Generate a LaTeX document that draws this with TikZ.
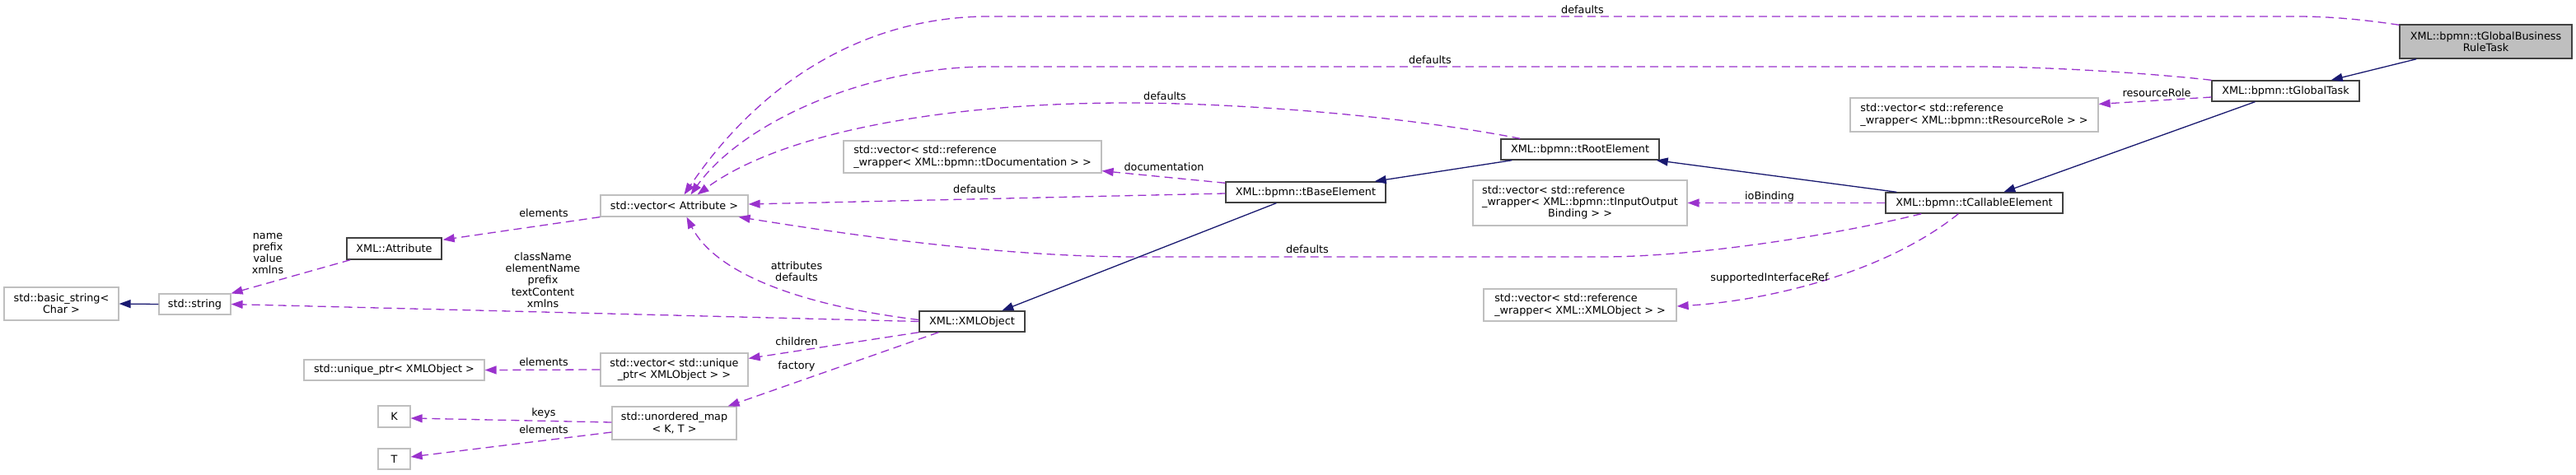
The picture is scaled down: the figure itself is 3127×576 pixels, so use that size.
\documentclass[tikz,border=0pt]{standalone}
\usepackage{fontspec}
\setmainfont{DejaVu Sans}
\usetikzlibrary{arrows.meta,calc}
\definecolor{cdep}{HTML}{9A32CD}
\definecolor{cinh}{HTML}{191970}
\definecolor{cext}{HTML}{BFBFBF}
\definecolor{cdoc}{HTML}{404040}
\definecolor{cmain}{HTML}{BFBFBF}
\tikzset{
  every node/.style={font=\fontsize{12.8}{14.3}\selectfont, inner sep=0pt},
  extbox/.style={draw=cext, line width=1.2pt, fill=white, align=center},
  docbox/.style={draw=cdoc, line width=1.4pt, fill=white, align=center},
  mainbox/.style={draw=cdoc, line width=1.4pt, fill=cmain, align=center},
  usedge/.style={draw=cdep, line width=1.3pt, dash pattern=on 10pt off 6pt, -{Triangle[length=14pt,width=10pt]}},
  inhedge/.style={draw=cinh, line width=1.3pt, -{Triangle[length=14pt,width=10pt]}},
  lbl/.style={align=center, text=black}
}
\begin{document}
\begin{tikzpicture}[x=1pt,y=-1pt]
\fill[white] (0,0) rectangle (3127,576);
\useasboundingbox (0,0) rectangle (3127,576);

% nodes
\node[extbox, minimum width=139pt, minimum height=40pt] (basic) at (74.5,369) {std::basic\_string<\\Char >};
\node[extbox, minimum width=87pt, minimum height=25pt] (string) at (236.5,369.5) {std::string};
\node[docbox, minimum width=115pt, minimum height=26pt] (attribute) at (478.5,302) {XML::Attribute};
\node[extbox, minimum width=179pt, minimum height=26pt] (vattr) at (818.5,250) {std::vector< Attribute >};
\node[extbox, minimum width=219pt, minimum height=25pt] (uptr) at (478.5,449.5) {std::unique\_ptr< XMLObject >};
\node[extbox, minimum width=39pt, minimum height=26pt] (K) at (478.5,506) {K};
\node[extbox, minimum width=39pt, minimum height=25pt] (T) at (478.5,557.5) {T};
\node[extbox, minimum width=179pt, minimum height=40pt] (vuptr) at (818.5,449) {std::vector< std::unique\\\_ptr< XMLObject > >};
\node[extbox, minimum width=151pt, minimum height=40pt] (umap) at (818.5,514) {std::unordered\_map\\< K, T >};
\node[docbox, minimum width=128pt, minimum height=25pt] (xmlobj) at (1180,390.5) {XML::XMLObject};
\node[extbox, minimum width=313pt, minimum height=39pt, align=left] (vdoc) at (1180.5,190.5) {std::vector< std::reference\\\_wrapper< XML::bpmn::tDocumentation > >};
\node[docbox, minimum width=194pt, minimum height=25pt] (base) at (1585,233.5) {XML::bpmn::tBaseElement};
\node[docbox, minimum width=192pt, minimum height=25pt] (root) at (1918,181.5) {XML::bpmn::tRootElement};
\node[extbox, minimum width=260pt, minimum height=55pt] (vio) at (1918,246.5) {\begin{tabular}{@{}l@{}}std::vector< std::reference\\\_wrapper< XML::bpmn::tInputOutput\\\multicolumn{1}{@{}c@{}}{Binding > >}\end{tabular}};
\node[extbox, minimum width=234pt, minimum height=39pt, align=left] (vxo) at (1918,370.5) {std::vector< std::reference\\\_wrapper< XML::XMLObject > >};
\node[docbox, minimum width=215pt, minimum height=25pt] (callable) at (2396.5,246.5) {XML::bpmn::tCallableElement};
\node[extbox, minimum width=301pt, minimum height=41pt, align=left] (vres) at (2396.5,139.5) {std::vector< std::reference\\\_wrapper< XML::bpmn::tResourceRole > >};
\node[docbox, minimum width=179pt, minimum height=25pt] (gtask) at (2774.5,110.5) {XML::bpmn::tGlobalTask};
\node[mainbox, minimum width=209pt, minimum height=41pt] (main) at (3017.5,50.5) {XML::bpmn::tGlobalBusiness\\RuleTask};

% usage edges
\draw[usedge] ($(attribute.south west)+(5,0)$) -- (string.north east);
\draw[usedge] (xmlobj.west) -- (string.east);
\draw[usedge] (vattr.south west) -- ($(attribute.north east)+(1,3)$);
\draw[usedge] ($(xmlobj.west)+(0,-2)$) .. controls (980,372) and (870,335) .. ($(vattr.south)+(15,0)$);
\draw[usedge] ($(base.west)+(0,1.5)$) -- ($(vattr.east)+(0,-2)$);
\draw[usedge] ($(callable.south west)+(44,0)$) .. controls (2230,285) and (2060,312) .. (1944,312) -- (1379,312) .. controls (1200,312) and (1000,280) .. ($(vattr.south east)+(-12,0)$);
\draw[usedge] ($(root.north west)+(24,0)$) .. controls (1700,140) and (1500,125) .. (1368,125) .. controls (1150,125) and (950,160) .. ($(vattr.north)+(28,0)$);
\draw[usedge] (gtask.north west) .. controls (2600,88) and (2480,81) .. (2399,81) -- (1200,81) .. controls (1050,81) and (900,150) .. ($(vattr.north)+(20,0)$);
\draw[usedge] ($(main.north west)+(0,1)$) .. controls (2870,24) and (2830,20) .. (2788,20) -- (1200,20) .. controls (1060,20) and (930,90) .. ($(vattr.north)+(12,0)$);
\draw[usedge] ($(base.north west)+(0,2)$) -- ($(vdoc.south east)+(0,-3)$);
\draw[usedge] (callable.west) -- (vio.east);
\draw[usedge] ($(callable.south west)+(89,0)$) .. controls (2290,330) and (2150,365) .. ($(vxo.east)+(0,1.5)$);
\draw[usedge] ($(gtask.west)+(0,7.5)$) -- ($(vres.north east)+(0,8)$);
\draw[usedge] (xmlobj.south west) -- ($(vuptr.north east)+(0,7)$);
\draw[usedge] ($(xmlobj.south west)+(24,0)$) -- ($(umap.north east)+(-11,0)$);
\draw[usedge] (vuptr.west) -- (uptr.east);
\draw[usedge] ($(umap.west)+(0,-1)$) -- ($(K.east)+(0,2)$);
\draw[usedge] ($(umap.west)+(0,11)$) -- ($(T.east)+(0,-2.5)$);

% inheritance edges
\draw[inhedge] (string.west) -- (basic.east);
\draw[inhedge] ($(main.south west)+(21,0)$) -- ($(gtask.north east)+(-35,0)$);
\draw[inhedge] ($(gtask.south west)+(53,0)$) -- ($(callable.north west)+(144,0)$);
\draw[inhedge] ($(callable.north west)+(14,0)$) -- ($(root.south east)+(-4,0)$);
\draw[inhedge] ($(root.south west)+(14,0)$) -- ($(base.north east)+(-14,0)$);
\draw[inhedge] ($(base.south west)+(62,0)$) -- ($(xmlobj.north west)+(101,0)$);

% labels
\node[lbl] (l1) at (325,308) {name\\prefix\\value\\xmlns};
\node[lbl] (l2) at (659,340) {className\\elementName\\prefix\\textContent\\xmlns};
\node[lbl] (l3) at (660,259) {elements};
\node[lbl] (l4) at (967,330) {attributes\\defaults};
\node[lbl] (l5) at (1183,230) {defaults};
\node[lbl] (l6) at (1587,303) {defaults};
\node[lbl] (l7) at (1414,117) {defaults};
\node[lbl] (l8) at (1736,73) {defaults};
\node[lbl] (l9) at (1921,12) {defaults};
\node[lbl] (l10) at (1413,203) {documentation};
\node[lbl] (l11) at (2148,239) {ioBinding};
\node[lbl] (l12) at (2148,338) {supportedInterfaceRef};
\node[lbl] (l13) at (2618,113) {resourceRole};
\node[lbl] (l14) at (967,415) {children};
\node[lbl] (l15) at (967,445) {factory};
\node[lbl] (l16) at (660,440) {elements};
\node[lbl] (l17) at (660,502) {keys};
\node[lbl] (l18) at (660,522) {elements};
\end{tikzpicture}
\end{document}
